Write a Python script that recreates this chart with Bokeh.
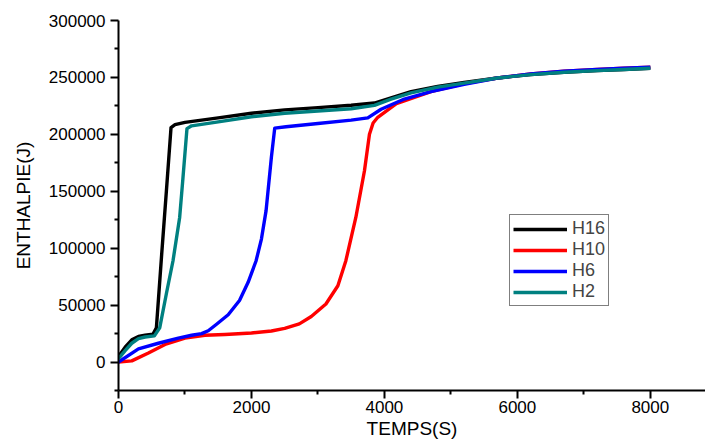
from bokeh.plotting import figure
from bokeh.models import Range1d, Legend, LegendItem, FixedTicker, NumeralTickFormatter
from bokeh.embed import file_html
from bokeh.resources import INLINE

# Data (time in s, enthalpy in J)
x_h16 = [0, 100, 200, 300, 400, 520, 570, 650, 720, 790, 850, 1000, 1500, 2000, 2500, 3000, 3500, 3850, 4100, 4400, 4800, 5200, 5700, 6200, 6700, 7200, 7600, 8000]
y_h16 = [5000, 13000, 19500, 22500, 23500, 24500, 30000, 95000, 150000, 206000, 208500, 210500, 214500, 218500, 221500, 223500, 225500, 227500, 232000, 237500, 242000, 245500, 249500, 252500, 254500, 256000, 257000, 258000]

x_h10 = [0, 200, 450, 700, 1000, 1300, 1600, 2000, 2300, 2500, 2720, 2900, 3120, 3300, 3420, 3570, 3700, 3775, 3830, 3900, 4180, 4700, 5200, 5700, 6200, 6700, 7200, 7600, 8000]
y_h10 = [0, 1000, 8000, 15500, 21000, 23500, 24200, 25500, 27300, 29500, 33500, 40000, 51000, 67000, 89000, 127000, 168000, 200000, 210000, 215000, 227000, 237500, 244500, 249500, 253000, 255500, 257000, 258000, 259000]

x_h6 = [0, 300, 600, 900, 1100, 1250, 1350, 1470, 1650, 1820, 1950, 2070, 2150, 2220, 2300, 2350, 2520, 3000, 3500, 3750, 3950, 4300, 4700, 5200, 5700, 6200, 6700, 7200, 7600, 8000]
y_h6 = [0, 11500, 16500, 21000, 23500, 25000, 27500, 33000, 41500, 54000, 70000, 89000, 108000, 133000, 180000, 205500, 206700, 209500, 212500, 214500, 222000, 231000, 237500, 244000, 249500, 253000, 255500, 257000, 258000, 259000]

x_h2 = [0, 100, 200, 300, 400, 540, 620, 720, 820, 920, 970, 1030, 1100, 1500, 2000, 2500, 3000, 3500, 3850, 4100, 4400, 4800, 5200, 5700, 6200, 6700, 7200, 7600, 8000]
y_h2 = [3000, 10000, 16500, 20500, 22000, 23000, 30000, 60000, 89000, 127000, 162000, 205000, 207500, 211000, 215500, 218500, 220500, 222500, 225500, 231000, 236500, 241500, 245000, 249500, 252500, 254500, 256000, 257000, 258000]

series_names = ["H16", "H10", "H6", "H2"]
series_colors = ["#000000", "#ff0000", "#0000ff", "#008080"]

x_ticks = [0, 2000, 4000, 6000, 8000]
x_minor = [1000, 3000, 5000, 7000]
y_ticks = [0, 50000, 100000, 150000, 200000, 250000, 300000]
y_minor = [-25000, 25000, 75000, 125000, 175000, 225000, 275000]

FONT = "Liberation Sans"

p = figure(width=705, height=443, output_backend="svg", toolbar_location=None,
           x_range=Range1d(0, 8830), y_range=Range1d(-25000, 300000),
           min_border_left=118, min_border_right=0, min_border_top=20, min_border_bottom=53)
p.outline_line_color = None
p.grid.visible = False

renderers = []
for xs, ys, c in [(x_h16, y_h16, series_colors[0]), (x_h10, y_h10, series_colors[1]),
                  (x_h6, y_h6, series_colors[2]), (x_h2, y_h2, series_colors[3])]:
    renderers.append(p.line(xs, ys, line_color=c, line_width=3.4, line_join="round"))

p.xaxis.ticker = FixedTicker(ticks=x_ticks, minor_ticks=x_minor)
p.yaxis.ticker = FixedTicker(ticks=y_ticks, minor_ticks=y_minor)
p.yaxis.formatter = NumeralTickFormatter(format="0")
p.xaxis.formatter = NumeralTickFormatter(format="0")

for ax in (p.xaxis[0], p.yaxis[0]):
    ax.axis_line_width = 2
    ax.axis_line_color = "black"
    ax.major_tick_line_width = 2
    ax.minor_tick_line_width = 2
    ax.major_tick_in = 0
    ax.major_tick_out = 8
    ax.minor_tick_in = 0
    ax.minor_tick_out = 4
    ax.major_label_text_font = FONT
    ax.major_label_text_font_size = "17px"
    ax.major_label_text_color = "black"
    ax.axis_label_text_font = FONT
    ax.axis_label_text_font_size = "19px"
    ax.axis_label_text_font_style = "normal"
    ax.axis_label_text_color = "black"

p.xaxis.axis_label = "TEMPS(S)"
p.yaxis.axis_label = "ENTHALPIE(J)"
p.xaxis.major_label_standoff = 2
p.yaxis.major_label_standoff = 5
p.xaxis.axis_label_standoff = 2
p.yaxis.axis_label_standoff = 12

legend = Legend(items=[LegendItem(label=n, renderers=[r]) for n, r in zip(series_names, renderers)],
                location=(391, 84))
legend.border_line_color = "black"
legend.border_line_width = 1
legend.background_fill_alpha = 1
legend.label_text_font = FONT
legend.label_text_font_size = "18px"
legend.glyph_width = 54
legend.glyph_height = 20
legend.label_height = 20
legend.spacing = 0
legend.padding = 3
legend.margin = 0
legend.label_standoff = 5
p.add_layout(legend, "center")

open("out.html", "w").write(file_html(p, INLINE))
